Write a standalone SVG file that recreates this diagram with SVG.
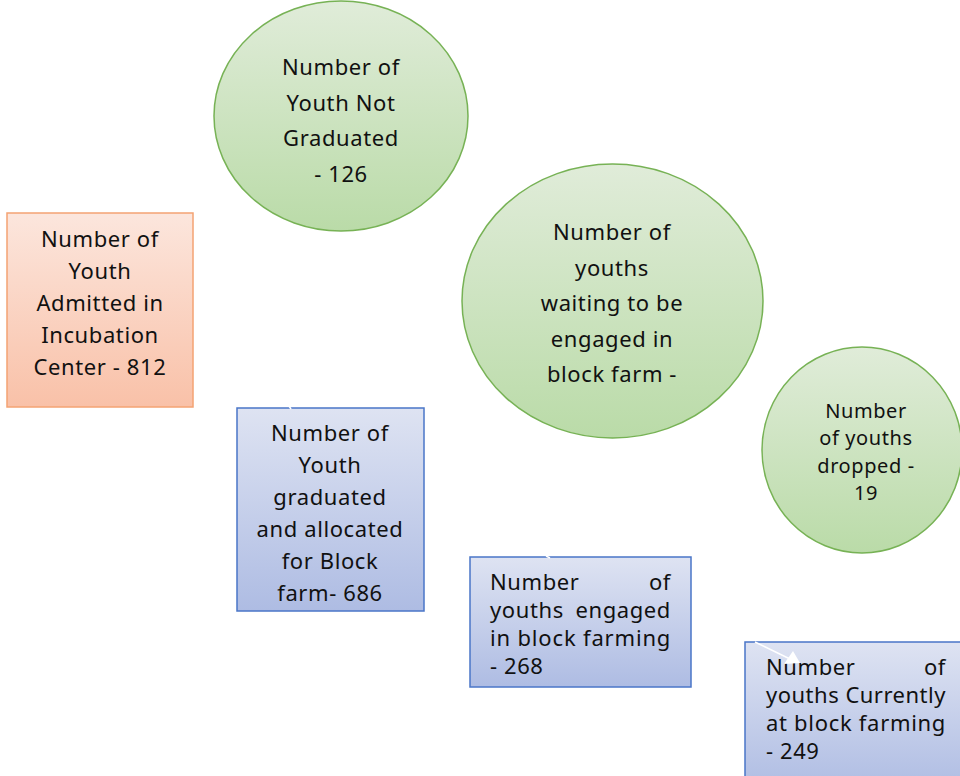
<svg xmlns="http://www.w3.org/2000/svg" width="960" height="776" viewBox="0 0 960 776">
<defs>
<linearGradient id="gOrange" x1="0" y1="0" x2="0" y2="1"><stop offset="0" stop-color="#FCE6DD"/><stop offset="1" stop-color="#F9C1A8"/></linearGradient>
<linearGradient id="gGreen" x1="0" y1="0" x2="0" y2="1"><stop offset="0" stop-color="#E0ECD9"/><stop offset="1" stop-color="#BADBA8"/></linearGradient>
<linearGradient id="gBlue" x1="0" y1="0" x2="0" y2="1"><stop offset="0" stop-color="#DEE3F2"/><stop offset="1" stop-color="#AEBCE3"/></linearGradient>
<style>
text{font-family:"Noto Sans","Open Sans","Liberation Sans",sans-serif;font-size:22px;fill:#111;letter-spacing:0.6px}
.c{text-anchor:middle}
.e{text-anchor:end}
.s{font-size:20px}
.org{fill:url(#gOrange);stroke:#F4A373;stroke-width:1.5}
.grn{fill:url(#gGreen);stroke:#77B255;stroke-width:1.5}
.blu{fill:url(#gBlue);stroke:#4A76C8;stroke-width:1.5}
.con{stroke:#fff;stroke-width:1.5;fill:none}
</style>
</defs>
<rect width="960" height="776" fill="#fff"/>

<g id="admitted">
<rect class="org" x="7" y="213" width="186" height="194"/>
<text class="c" x="100" y="247">Number of</text>
<text class="c" x="100" y="279">Youth</text>
<text class="c" x="100" y="311">Admitted in</text>
<text class="c" x="100" y="343">Incubation</text>
<text class="c" x="100" y="375">Center - 812</text>
</g>

<g id="notGraduated">
<ellipse class="grn" cx="341" cy="116" rx="127" ry="115"/>
<text class="c" x="341" y="75">Number of</text>
<text class="c" x="341" y="111">Youth Not</text>
<text class="c" x="341" y="146">Graduated</text>
<text class="c" x="341" y="182">- 126</text>
</g>

<g id="waiting">
<ellipse class="grn" cx="612.5" cy="301" rx="150.5" ry="137"/>
<text class="c" x="612" y="240">Number of</text>
<text class="c" x="612" y="276">youths</text>
<text class="c" x="612" y="311">waiting to be</text>
<text class="c" x="612" y="347">engaged in</text>
<text class="c" x="612" y="382">block farm -</text>
</g>

<g id="dropped">
<ellipse class="grn" cx="862" cy="450" rx="100" ry="103"/>
<text class="c s" x="866" y="418">Number</text>
<text class="c s" x="866" y="445">of youths</text>
<text class="c s" x="866" y="473">dropped -</text>
<text class="c s" x="866" y="500">19</text>
</g>

<g id="graduated">
<rect class="blu" x="237" y="408" width="187" height="203"/>
<text class="c" x="330" y="441">Number of</text>
<text class="c" x="330" y="473">Youth</text>
<text class="c" x="330" y="505">graduated</text>
<text class="c" x="330" y="537">and allocated</text>
<text class="c" x="330" y="569">for Block</text>
<text class="c" x="330" y="601">farm- 686</text>
</g>

<g id="engaged">
<rect class="blu" x="470" y="557" width="221" height="130"/>
<text x="490" y="590">Number</text><text class="e" x="671" y="590">of</text>
<text x="490" y="618">youths</text><text class="e" x="671" y="618">engaged</text>
<text x="490" y="646" textLength="181" lengthAdjust="spacing">in block farming</text>
<text x="490" y="674">- 268</text>
</g>

<g id="current">
<rect class="blu" x="745" y="642" width="230" height="150"/>
<text x="766" y="674.5">Number</text><text class="e" x="946" y="674.5">of</text>
<text x="766" y="702.5" textLength="180" lengthAdjust="spacing">youths Currently</text>
<text x="766" y="730.5" textLength="180" lengthAdjust="spacing">at block farming</text>
<text x="766" y="758.5">- 249</text>
</g>

<g id="connectors">
<line class="con" x1="289" y1="406" x2="291" y2="409"/>
<line class="con" x1="546" y1="556" x2="550" y2="558"/>
<line class="con" x1="755" y1="642" x2="790" y2="659"/>
<polygon points="784,664 800,663 793,651" fill="#fff"/>
</g>
</svg>
